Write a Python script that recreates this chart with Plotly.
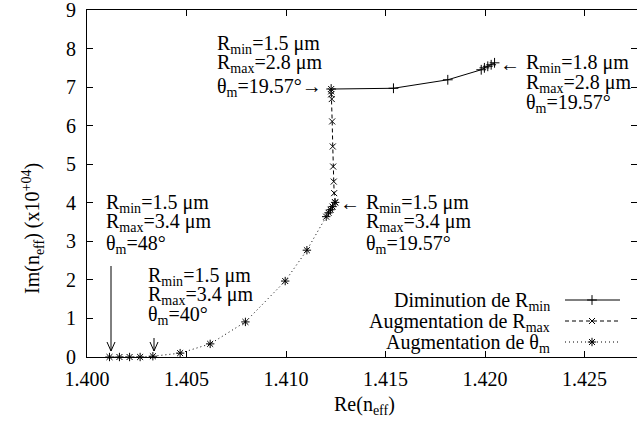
import plotly.graph_objects as go

# ---- data ----
theta_re = [1.40113, 1.40163, 1.40214, 1.40267, 1.40331, 1.40468, 1.40619, 1.40796,
            1.40996, 1.41105, 1.41202, 1.41214, 1.41224, 1.41234, 1.41247]
theta_im = [0.0, 0.0, 0.0, 0.0, 0.02, 0.10, 0.34, 0.91,
            1.97, 2.77, 3.64, 3.74, 3.82, 3.90, 4.01]

rmax_re = [1.41247, 1.41242, 1.41240, 1.41237, 1.41235, 1.41232, 1.41230, 1.41227, 1.41227, 1.41227]
rmax_im = [4.01, 4.25, 4.55, 4.94, 5.46, 6.11, 6.69, 6.81, 6.89, 6.95]

rmin_re = [1.41227, 1.41540, 1.41813, 1.41981, 1.41997, 1.42014, 1.42031, 1.42048]
rmin_im = [6.95, 6.97, 7.19, 7.45, 7.50, 7.54, 7.58, 7.63]

x_ticks = [1.400, 1.405, 1.410, 1.415, 1.420, 1.425]
y_ticks = list(range(0, 10))

legend_names = ["Diminution de R<sub>min</sub>",
                "Augmentation de R<sub>max</sub>",
                "Augmentation de θ<sub>m</sub>"]

FONT = "Liberation Serif, Times New Roman, Times, serif"
FS = 20

# plot area in pixels
L, R, T, B = 87, 637, 10, 357
X0, X_PER_PX = 1.400, 0.005 / 99.5
x_end = X0 + (R - L) * X_PER_PX
Y_MAX = 9

def px(x):  # pixel x -> paper
    return (x - L) / (R - L)

def py(y):  # pixel y -> paper
    return (B - y) / (B - T)

def dx(x):  # pixel x -> data x (for legend sample positions)
    return X0 + (x - L) * X_PER_PX

def dy(y):  # pixel y -> data y
    return (B - y) / (B - T) * Y_MAX

fig = go.Figure()

styles = [
    (rmin_re, rmin_im, "solid", "cross-thin-open", 7),
    (rmax_re, rmax_im, "4px,3px", "x-thin-open", 6),
    (theta_re, theta_im, "1px,3px", "asterisk-open", 7),
]
for xs, ys, dash, sym, size in styles:
    fig.add_trace(go.Scatter(x=xs, y=ys, mode="lines+markers",
                             line=dict(color="black", width=1, dash=dash),
                             marker=dict(symbol=sym, size=size, color="black",
                                         line=dict(width=1, color="black")),
                             cliponaxis=False, showlegend=False))

# ---- hand-made legend (gnuplot style: text left, sample right) ----
leg_y = [300, 321, 342]
shapes = []
ann = []

def txt(x, y, s, xa="left", angle=0):
    ann.append(dict(x=px(x), y=py(y), xref="paper", yref="paper", text=s, showarrow=False,
                    xanchor=xa, yanchor="middle", textangle=angle,
                    font=dict(family=FONT, size=FS, color="black")))

for i, (xs, ys, dash, sym, size) in enumerate(styles):
    shapes.append(dict(type="line", xref="paper", yref="paper",
                       x0=px(565), x1=px(620), y0=py(leg_y[i]), y1=py(leg_y[i]),
                       line=dict(color="black", width=1, dash=dash)))
    fig.add_trace(go.Scatter(x=[dx(592)], y=[dy(leg_y[i])], mode="markers",
                             marker=dict(symbol=sym, size=size, color="black",
                                         line=dict(width=1, color="black")),
                             showlegend=False, hoverinfo="skip", cliponaxis=False))
    txt(552, leg_y[i] + 1, legend_names[i], xa="right")

# top-left annotation
txt(215, 44, "R<sub>min</sub>=1.5 μm")
txt(215, 63, "R<sub>max</sub>=2.8 μm")
txt(215, 88, "θ<sub>m</sub>=19.57°→")
# right annotation
txt(522, 64, "←", xa="right")
txt(524, 64, "R<sub>min</sub>=1.8 μm")
txt(524, 83, "R<sub>max</sub>=2.8 μm")
txt(524, 104, "θ<sub>m</sub>=19.57°")
# middle annotation
txt(362, 203, "←", xa="right")
txt(364, 203, "R<sub>min</sub>=1.5 μm")
txt(364, 222, "R<sub>max</sub>=3.4 μm")
txt(364, 244, "θ<sub>m</sub>=19.57°")
# bottom-left annotation
txt(104, 203, "R<sub>min</sub>=1.5 μm")
txt(104, 222, "R<sub>max</sub>=3.4 μm")
txt(104, 244, "θ<sub>m</sub>=48°")
# second bottom annotation
txt(146, 276, "R<sub>min</sub>=1.5 μm")
txt(146, 295, "R<sub>max</sub>=3.4 μm")
txt(146, 315, "θ<sub>m</sub>=40°")

# axis titles
txt(364, 405, "Re(n<sub>eff</sub>)", xa="center")
txt(33, 229, "Im(n<sub>eff</sub>) (x10<sup>+04</sup>)", xa="center", angle=-90)

# down arrows
for ax, ytop in [(111, 266), (154, 338)]:
    shapes.append(dict(type="line", xref="paper", yref="paper",
                       x0=px(ax), x1=px(ax), y0=py(ytop), y1=py(351),
                       line=dict(color="black", width=1)))
    shapes.append(dict(type="path", xref="paper", yref="paper",
                       path=f"M {px(ax-4)},{py(342)} L {px(ax)},{py(351)} L {px(ax+4)},{py(342)}",
                       line=dict(color="black", width=1)))

fig.update_layout(
    width=637, height=424, autosize=False,
    margin=dict(l=L, r=637 - R, t=T, b=424 - B, pad=0),
    plot_bgcolor="white", paper_bgcolor="white",
    annotations=ann, shapes=shapes,
    xaxis=dict(range=[X0, x_end], tickvals=x_ticks,
               ticktext=[f"{v:.3f}" for v in x_ticks],
               ticks="inside", ticklen=6, tickcolor="black", tickwidth=1,
               showline=True, linecolor="black", linewidth=1, mirror="allticks",
               showgrid=False, zeroline=False, ticklabelstandoff=4, automargin=False,
               ticklabeloverflow="allow",
               tickfont=dict(family=FONT, size=FS, color="black")),
    yaxis=dict(range=[0, Y_MAX], tickvals=y_ticks,
               ticks="inside", ticklen=6, tickcolor="black", tickwidth=1,
               showline=True, linecolor="black", linewidth=1, mirror="allticks",
               showgrid=False, zeroline=False, ticklabelstandoff=6, automargin=False,
               ticklabeloverflow="allow",
               tickfont=dict(family=FONT, size=FS, color="black")),
)

fig.write_html("out.html", config={"displayModeBar": False},
               post_script="document.body.style.margin='0';document.body.style.overflow='hidden';")
